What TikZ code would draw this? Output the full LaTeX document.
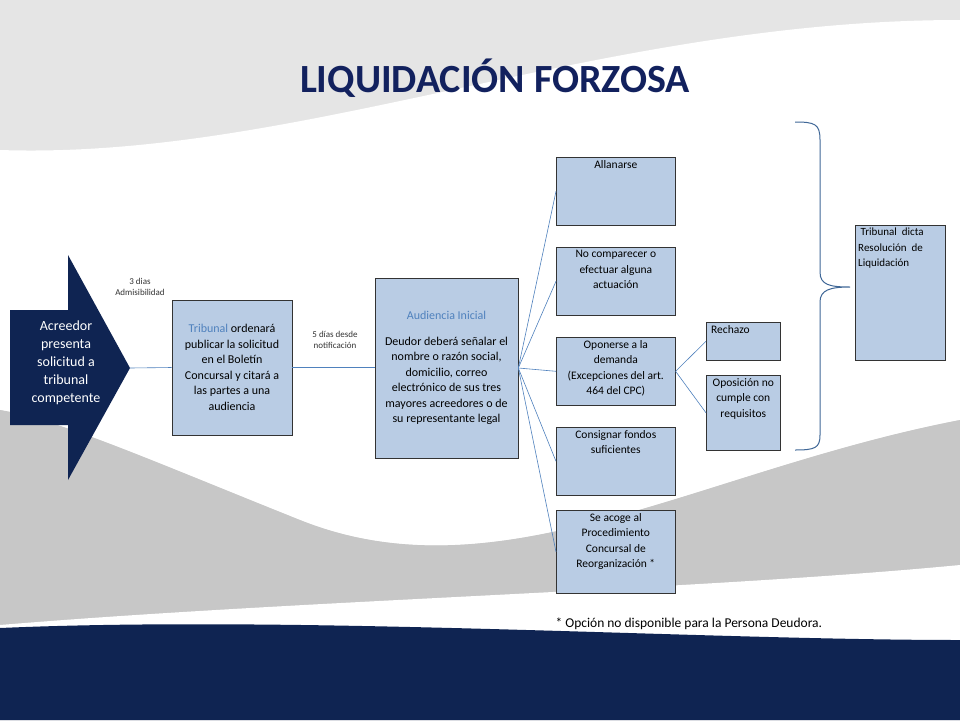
\documentclass[tikz,border=0pt]{standalone}
\usepackage{fontspec}
\setmainfont{Carlito}
\begin{document}
\begin{tikzpicture}[x=1pt,y=-1pt,
  bx/.style={draw=black!80,fill=boxc,line width=0.6pt,inner sep=2pt,align=center,font=\fontsize{12}{15.5}\selectfont},
  tbx/.style={draw=black!80,fill=boxc,line width=0.6pt,anchor=north west},
  tt/.style={anchor=north,align=center,font=\fontsize{11.5}{15.5}\selectfont,inner sep=3pt},
  conn/.style={draw=lnc,line width=0.6pt},
  lbl/.style={font=\fontsize{9}{11}\selectfont,align=center,text=black!80}]
\definecolor{boxc}{HTML}{B9CCE4}
\definecolor{lnc}{HTML}{4F81BD}
\definecolor{navy}{HTML}{0F2452}
\definecolor{titc}{HTML}{12215E}
\useasboundingbox (0,0) rectangle (960,720);
% background
\fill[black!10] (0,0) rectangle (960,720);
\fill[white] (0,150) .. controls (300,160) and (600,20) .. (960,20) -- (960,420) .. controls (700,470) and (500,600) .. (300,520) .. controls (150,460) and (60,420) .. (0,410) -- cycle;
\fill[black!22] (0,410) .. controls (60,420) and (150,460) .. (300,520) .. controls (500,600) and (700,470) .. (960,420) -- (960,720) -- (0,720) -- cycle;
\fill[white] (0,625) .. controls (300,600) and (700,590) .. (960,565) -- (960,640) -- (0,640) -- cycle;
\fill[navy] (0,628) .. controls (300,615) and (700,640) .. (960,640) -- (960,720) -- (0,720) -- cycle;
% title
\node[font=\fontsize{40}{44}\selectfont\bfseries,text=titc] (title) at (495,78) {LIQUIDACIÓN FORZOSA};
% arrow
\fill[navy] (10,310) -- (68,310) -- (68,255) -- (130,368) -- (68,480) -- (68,425) -- (10,425) -- cycle;
\coordinate (tip) at (130,368);
\node[text=white,align=center,font=\fontsize{14}{18}\selectfont] (acr) at (66,363) {Acreedor\\presenta\\solicitud a\\tribunal\\competente};
% boxes
\node[bx,minimum width=120pt,minimum height=135pt] (trib) at (232,367.5) {\textcolor{lnc}{Tribunal} ordenará\\publicar la solicitud\\en el Boletín\\Concursal y citará a\\las partes a una\\audiencia};
\node[bx,minimum width=143pt,minimum height=180pt] (aud) at (446.5,368) {\textcolor{lnc}{Audiencia Inicial}\\[10pt]Deudor deberá señalar el\\nombre o razón social,\\domicilio, correo\\electrónico de sus tres\\mayores acreedores o de\\su representante legal};
\node[tbx,minimum width=119pt,minimum height=68pt] (all) at (556,157) {};
\node[tt] at (all.north) {Allanarse};
\node[tbx,minimum width=119pt,minimum height=68pt] (nocomp) at (556,247) {};
\node[tt] at (nocomp.north) {No comparecer o\\efectuar alguna\\actuación};
\node[tbx,minimum width=119pt,minimum height=68pt] (opon) at (556,337) {};
\node[tt] at (opon.north) {Oponerse a la\\demanda\\(Excepciones del art.\\464 del CPC)};
\node[tbx,minimum width=119pt,minimum height=68pt] (cons) at (556,427) {};
\node[tt] at (cons.north) {Consignar fondos\\suficientes};
\node[tbx,minimum width=119pt,minimum height=83pt] (acoge) at (556,510) {};
\node[tt] at (acoge.north) {Se acoge al\\Procedimiento\\Concursal de\\Reorganización *};
\node[tbx,minimum width=74pt,minimum height=38pt] (rech) at (706,322) {};
\node[tt,anchor=north west] at (rech.north west) {\,Rechazo};
\node[tbx,minimum width=74pt,minimum height=75pt] (opno) at (706,375) {};
\node[tt] at (opno.north) {Oposición no\\cumple con\\requisitos};
\node[tbx,minimum width=90pt,minimum height=135pt] (dicta) at (855,225) {};
\node[tt,anchor=north west,align=left,font=\fontsize{11}{15.5}\selectfont] at (dicta.north west) {\ Tribunal\ \ dicta\\ Resolución\ \ de\\ Liquidación};
% labels
\node[lbl] (l1) at (140,287) {3 dias\\Admisibilidad};
\node[lbl] (l2) at (335,340) {5 días desde\\notificación};
% connectors
\draw[conn] (tip) -- (trib.west);
\draw[conn] (trib.east) -- (aud.west |- trib.east);
\foreach \n in {all,nocomp,opon,cons,acoge}{\draw[conn] (aud.east) -- (\n.west);}
\draw[conn] (opon.east) -- (rech.west);
\draw[conn] (opon.east) -- (opno.west);
% brace
\draw[lnc!80!black,line width=1pt] (795,122) .. controls (815,122) and (820,124) .. (820,140) -- (820,272) .. controls (820,285) and (830,287) .. (850,287) .. controls (830,287) and (820,290) .. (820,302) -- (820,435) .. controls (820,448) and (815,450) .. (795,450);
% footnote
\node[anchor=west,font=\fontsize{13.5}{15}\selectfont] (fn) at (552,624) {* Opción no disponible para la Persona Deudora.};
\end{tikzpicture}
\end{document}
